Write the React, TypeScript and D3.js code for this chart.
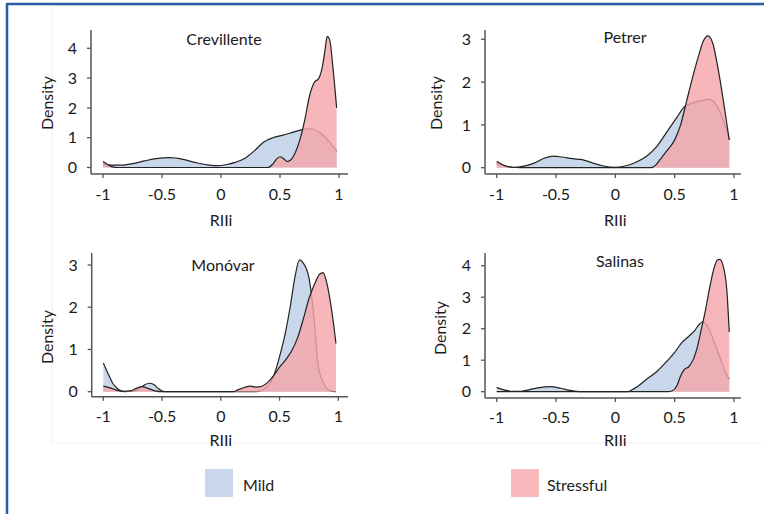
import * as d3 from 'd3';

type Pt = [number, number];

// RIIi density curves, [RIIi, density]
const crevillenteMild: Pt[] = [
  [-1, 0.12], [-0.93, 0.08], [-0.85, 0.08], [-0.75, 0.13], [-0.65, 0.22], [-0.55, 0.3],
  [-0.43, 0.33], [-0.32, 0.27], [-0.2, 0.15], [-0.1, 0.08], [-0.04, 0.06], [0.05, 0.1],
  [0.12, 0.17], [0.2, 0.3], [0.28, 0.55], [0.36, 0.85], [0.44, 1.0], [0.52, 1.08],
  [0.6, 1.17], [0.68, 1.26], [0.74, 1.3], [0.8, 1.26], [0.86, 1.1], [0.92, 0.85], [0.98, 0.55],
];
const crevillenteStressful: Pt[] = [
  [-1, 0.2], [-0.96, 0.1], [-0.92, 0.02], [-0.88, 0], [0.4, 0], [0.44, 0.12], [0.47, 0.28],
  [0.5, 0.36], [0.53, 0.3], [0.56, 0.2], [0.59, 0.25], [0.63, 0.5], [0.67, 0.95], [0.71, 1.6],
  [0.75, 2.4], [0.79, 2.85], [0.83, 3.0], [0.86, 3.4], [0.88, 3.9], [0.9, 4.4], [0.92, 4.3],
  [0.95, 3.3], [0.98, 2.0],
];
const petrerMild: Pt[] = [
  [-1, 0.1], [-0.93, 0.04], [-0.86, 0.01], [-0.78, 0.03], [-0.69, 0.1], [-0.6, 0.22],
  [-0.52, 0.27], [-0.45, 0.25], [-0.36, 0.21], [-0.28, 0.19], [-0.2, 0.12], [-0.1, 0.04],
  [0, 0.01], [0.08, 0.04], [0.16, 0.11], [0.26, 0.26], [0.35, 0.5], [0.43, 0.82],
  [0.52, 1.18], [0.58, 1.42], [0.64, 1.5], [0.72, 1.56], [0.79, 1.6], [0.85, 1.47],
  [0.9, 1.18], [0.94, 0.85], [0.96, 0.65],
];
const petrerStressful: Pt[] = [
  [-1, 0.15], [-0.95, 0.07], [-0.88, 0.01], [-0.8, 0], [0.3, 0], [0.34, 0.06], [0.38, 0.2],
  [0.43, 0.38], [0.5, 0.65], [0.55, 1.0], [0.6, 1.55], [0.65, 2.1], [0.7, 2.6], [0.74, 2.95],
  [0.78, 3.08], [0.82, 2.92], [0.86, 2.4], [0.9, 1.75], [0.93, 1.2], [0.96, 0.65],
];
const monovarMild: Pt[] = [
  [-1, 0.68], [-0.96, 0.43], [-0.92, 0.2], [-0.87, 0.05], [-0.82, 0], [-0.76, 0.01],
  [-0.7, 0.06], [-0.65, 0.16], [-0.61, 0.2], [-0.57, 0.17], [-0.53, 0.07], [-0.48, 0],
  [0.3, 0], [0.36, 0.05], [0.42, 0.2], [0.46, 0.45], [0.5, 0.83], [0.55, 1.4], [0.59, 2.0],
  [0.63, 2.7], [0.67, 3.12], [0.7, 3.05], [0.75, 2.7], [0.79, 1.85], [0.83, 0.6],
  [0.86, 0.3], [0.89, 0.12], [0.93, 0.02], [0.98, 0],
];
const monovarStressful: Pt[] = [
  [-1, 0.13], [-0.94, 0.09], [-0.88, 0.03], [-0.83, 0.01], [-0.77, 0.02], [-0.72, 0.08],
  [-0.67, 0.12], [-0.62, 0.08], [-0.56, 0.02], [-0.5, 0], [0.1, 0], [0.15, 0.05], [0.2, 0.1],
  [0.25, 0.13], [0.3, 0.11], [0.35, 0.13], [0.4, 0.22], [0.45, 0.38], [0.5, 0.58],
  [0.55, 0.75], [0.6, 0.95], [0.65, 1.25], [0.7, 1.7], [0.75, 2.2], [0.8, 2.56],
  [0.84, 2.78], [0.87, 2.82], [0.9, 2.6], [0.93, 2.17], [0.96, 1.6], [0.98, 1.14],
];
const salinasMild: Pt[] = [
  [-1, 0.13], [-0.94, 0.06], [-0.87, 0.01], [-0.8, 0.01], [-0.73, 0.06], [-0.64, 0.13],
  [-0.55, 0.16], [-0.46, 0.11], [-0.38, 0.04], [-0.3, 0], [0.1, 0], [0.14, 0.06],
  [0.19, 0.17], [0.26, 0.39], [0.35, 0.64], [0.43, 0.95], [0.5, 1.25], [0.56, 1.56],
  [0.62, 1.76], [0.67, 1.95], [0.71, 2.15], [0.74, 2.22], [0.78, 2.06], [0.82, 1.7],
  [0.86, 1.3], [0.9, 0.9], [0.93, 0.6], [0.96, 0.4],
];
const salinasStressful: Pt[] = [
  [-1, 0], [0.44, 0], [0.48, 0.03], [0.52, 0.2], [0.55, 0.5], [0.58, 0.7], [0.62, 0.8],
  [0.66, 1.05], [0.69, 1.4], [0.72, 1.9], [0.76, 2.6], [0.8, 3.4], [0.83, 3.9], [0.86, 4.18],
  [0.88, 4.2], [0.91, 3.97], [0.94, 3.2], [0.96, 1.9],
];

const xTicks = [-1, -0.5, 0, 0.5, 1];
const yTicksSmall = [0, 1, 2, 3];
const yTicksLarge = [0, 1, 2, 3, 4];
const siteNames = ['Crevillente', 'Petrer', 'Monóvar', 'Salinas'];
const groupNames = ['Mild', 'Stressful'];

const MILD = '#c9d7ea';
const STRESS = 'rgb(244,166,171)';
const FONT = 'Lato, "Open Sans", sans-serif';

// pixel layout for each panel (axis x, x-range for -1..1, baseline y, y for top tick)
const panels = [
  { name: siteNames[0], mild: crevillenteMild, stress: crevillenteStressful, yTicks: yTicksLarge,
    ax: 91, x0: 103, x1: 339, y0: 167.5, yTop: 48.3, axTop: 30, axY: 174, axRight: 348,
    titleX: 224, titleY: 45, tickY: 200, labY: 226, denX: 47, denY: 103 },
  { name: siteNames[1], mild: petrerMild, stress: petrerStressful, yTicks: yTicksSmall,
    ax: 485, x0: 496.7, x1: 734, y0: 167.7, yTop: 39.3, axTop: 30, axY: 174, axRight: 741,
    titleX: 625, titleY: 43, tickY: 200, labY: 226, denX: 436, denY: 103 },
  { name: siteNames[2], mild: monovarMild, stress: monovarStressful, yTicks: yTicksSmall,
    ax: 91.7, x0: 103.3, x1: 338.3, y0: 391.7, yTop: 265, axTop: 253, axY: 396.7, axRight: 348,
    titleX: 223, titleY: 271, tickY: 422, labY: 446, denX: 47, denY: 337 },
  { name: siteNames[3], mild: salinasMild, stress: salinasStressful, yTicks: yTicksLarge,
    ax: 485, x0: 496.7, x1: 734, y0: 391.7, yTop: 265.7, axTop: 253, axY: 398, axRight: 741,
    titleX: 620, titleY: 267, tickY: 423, labY: 446, denX: 440, denY: 328 },
];

function Panel({ p }: { p: (typeof panels)[number] }) {
  const topVal = p.yTicks[p.yTicks.length - 1];
  const x = d3.scaleLinear().domain([-1, 1]).range([p.x0, p.x1]);
  const y = d3.scaleLinear().domain([0, topVal]).range([p.y0, p.yTop]);
  const area = d3.area<Pt>().x((d) => x(d[0])).y0(y(0)).y1((d) => y(d[1])).curve(d3.curveMonotoneX);
  const line = d3.line<Pt>().x((d) => x(d[0])).y((d) => y(d[1])).curve(d3.curveMonotoneX);
  const axisColor = '#555';

  return (
    <g fontFamily={FONT} fill="#1a1a1a">
      <path d={area(p.mild) || ''} fill={MILD} />
      <path d={line(p.mild) || ''} fill="none" stroke="#222" strokeWidth={1.2} />
      <path d={area(p.stress) || ''} fill={STRESS} fillOpacity={0.82} />
      <path d={line(p.stress) || ''} fill="none" stroke="#222" strokeWidth={1.2} />

      <line x1={p.ax} x2={p.ax} y1={p.axTop} y2={p.axY} stroke={axisColor} strokeWidth={1.5} />
      <line x1={p.ax} x2={p.axRight} y1={p.axY} y2={p.axY} stroke={axisColor} strokeWidth={1.5} />
      {p.yTicks.map((t) => (
        <g key={'y' + t}>
          <line x1={p.ax - 4} x2={p.ax} y1={y(t)} y2={y(t)} stroke={axisColor} strokeWidth={1.3} />
          <text x={p.ax - 14} y={y(t)} dy="0.35em" textAnchor="end" fontSize={16}>
            {t}
          </text>
        </g>
      ))}
      {xTicks.map((t) => (
        <g key={'x' + t}>
          <line x1={x(t)} x2={x(t)} y1={p.axY} y2={p.axY + 4} stroke={axisColor} strokeWidth={1.3} />
          <text x={x(t)} y={p.tickY} textAnchor="middle" fontSize={16}>
            {t}
          </text>
        </g>
      ))}
      <text x={(p.x0 + p.x1) / 2} y={p.labY} textAnchor="middle" fontSize={16}>
        RIIi
      </text>
      <text
        transform={`translate(${p.denX},${p.denY}) rotate(-90)`}
        textAnchor="middle"
        dy="0.35em"
        fontSize={16}
      >
        Density
      </text>
      <text x={p.titleX} y={p.titleY} textAnchor="middle" fontSize={16}>
        {p.name}
      </text>
    </g>
  );
}

export default function App() {
  const legend = [
    { label: groupNames[0], color: MILD, sx: 205, tx: 243 },
    { label: groupNames[1], color: '#f8b9bc', sx: 511, tx: 547 },
  ];
  return (
    <svg
      width={764}
      height={514}
      style={{ position: 'absolute', left: 0, top: 0, background: '#fff' }}
    >
      <rect x={52} y={6} width={730} height={437} fill="none" stroke="#f1f1f1" />
      <line x1={7} x2={764} y1={4} y2={4} stroke="#2a5ca6" strokeWidth={2.5} />
      <line x1={7} x2={7} y1={3} y2={514} stroke="#2a5ca6" strokeWidth={2.5} />
      {panels.map((p) => (
        <Panel key={p.name} p={p} />
      ))}
      {legend.map((l) => (
        <g key={l.label} fontFamily={FONT}>
          <rect x={l.sx} y={469} width={28} height={28} fill={l.color} />
          <text x={l.tx} y={491} fontSize={16} fill="#222">
            {l.label}
          </text>
        </g>
      ))}
    </svg>
  );
}
